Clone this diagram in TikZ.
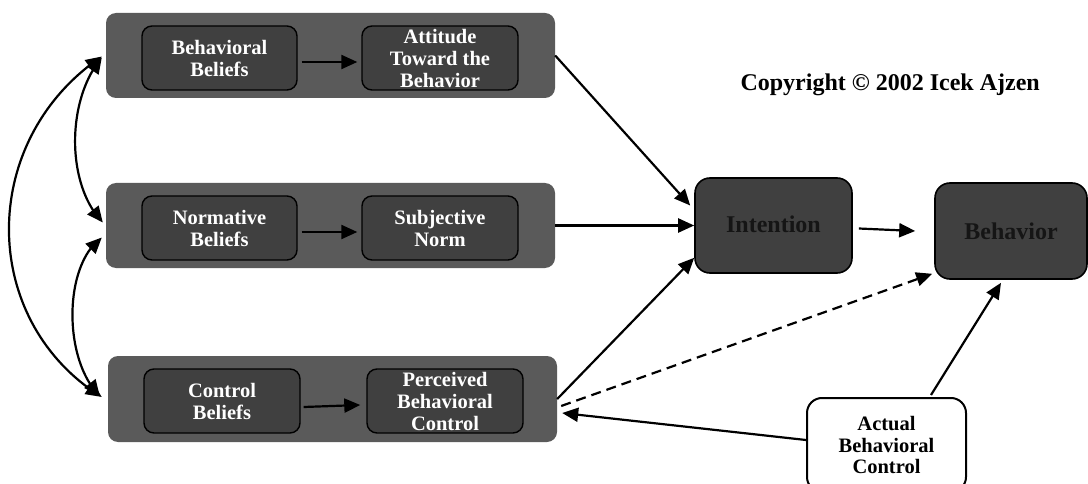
\documentclass[tikz,border=0pt]{standalone}
\usepackage{fontspec}
\setmainfont{Liberation Serif}
\usetikzlibrary{arrows.meta,calc,bending}
\definecolor{outergray}{HTML}{5A5A5A}
\definecolor{innergray}{HTML}{404040}
\definecolor{darktext}{HTML}{151515}
\begin{document}
\begin{tikzpicture}[x=1pt,y=-1pt,
  outerbox/.style={fill=outergray, rounded corners=10pt, minimum width=449pt, minimum height=85pt, inner sep=0pt},
  innerbox/.style={fill=innergray, draw=black, line width=1.4pt, rounded corners=10pt, minimum width=156pt, minimum height=64pt, inner sep=0pt, align=center, text=white, font=\bfseries\fontsize{20.5}{22}\selectfont},
  bigbox/.style={fill=innergray, draw=black, line width=1.6pt, rounded corners=15pt, inner sep=0pt, text=darktext, font=\bfseries\fontsize{24}{26}\selectfont},
  abcbox/.style={fill=white, draw=black, line width=2pt, rounded corners=15pt, inner sep=0pt, align=center, minimum width=159pt, minimum height=94pt, font=\bfseries\fontsize{20.5}{21.5}\selectfont},
  arr/.style={-{Triangle[length=16pt,width=14pt]}, line width=2.2pt},
  dbl/.style={{Triangle[length=16pt,width=14pt]}-{Triangle[length=16pt,width=14pt]}, line width=2.2pt}
]
\path[use as bounding box] (0,0) rectangle (1088,484);

% outer grey panels
\node[outerbox] (b1) at (330.5,55.5) {};
\node[outerbox] (b2) at (330.5,225.5) {};
\node[outerbox, minimum height=86pt] (b3) at (332.5,399) {};

% inner boxes
\node[innerbox, minimum width=155pt] (l1) at (219.5,58) {Behavioral\\Beliefs};
\node[innerbox] (r1) at (440,58) {Attitude\\Toward the\\Behavior};
\node[innerbox, minimum width=155pt] (l2) at (219.5,228) {Normative\\Beliefs};
\node[innerbox] (r2) at (440,228) {Subjective\\Norm};
\node[innerbox] (l3) at (222,401) {Control\\Beliefs};
\node[innerbox] (r3) at (445,401) {Perceived\\Behavioral\\Control};

% big boxes
\node[bigbox, minimum width=157pt, minimum height=95pt] (int) at (773.5,225.5) {\raisebox{3pt}{Intention}};
\node[bigbox, minimum width=152pt, minimum height=96pt] (beh) at (1011,231) {Behavior};
\node[abcbox] (abc) at (886.5,445) {Actual\\Behavioral\\Control};

% copyright
\node[anchor=east, inner sep=0pt, font=\bfseries\fontsize{24}{26}\selectfont] (copy) at (1040,85) {Copyright © 2002 Icek Ajzen};

% inner arrows
\draw[arr] ($(l1.east)+(4,4)$) -- ($(r1.west)+(-4,4)$);
\draw[arr] ($(l2.east)+(4,4)$) -- ($(r2.west)+(-4,4)$);
\draw[arr] ($(l3.east)+(3,6)$) -- ($(r3.west)+(-6,4)$);

% to intention
\draw[arr] (b1.east) -- ($(int.west)+(-4,-20)$);
\draw[arr] (b2.east) -- (int.west);
\draw[arr] (b3.east) -- ($(int.south west)+(0,-16)$);
\draw[arr, dashed, dash pattern=on 10pt off 6pt] ($(b3.east)+(4,7)$) -- ($(beh.south west)+(-2,-6)$);
\draw[arr] ($(int.east)+(6,3)$) -- ($(beh.west)+(-19,0)$);

% actual behavioral control
\draw[arr] ($(abc.west)+(0,-5)$) -- ($(b3.east)+(5,14)$);
\draw[arr] ($(abc.north)+(44.5,-2)$) -- ($(beh.south)+(-10,3)$);

% left correlation arcs
\draw[dbl] ($(b1.west)+(-4,1)$) .. controls (-22,140) and (-22,320) .. ($(b3.west)+(-6,-2)$);
\draw[dbl] ($(b1.west)+(-4,2)$) .. controls (66,100) and (66,185) .. ($(b2.west)+(-3,-3)$);
\draw[dbl] ($(b2.west)+(-4,12)$) .. controls (63,265) and (63,360) .. ($(b3.west)+(-8,-3)$);
\end{tikzpicture}
\end{document}
